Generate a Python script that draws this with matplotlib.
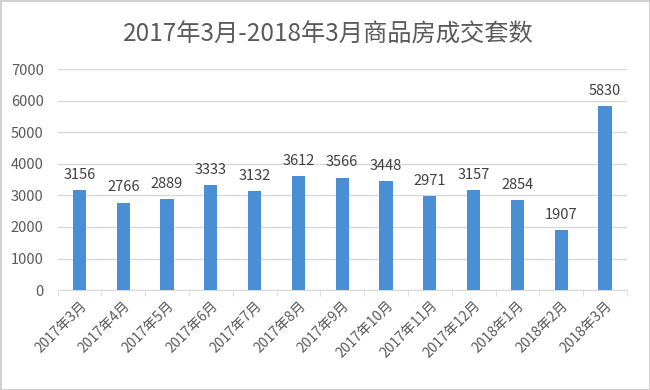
import matplotlib.pyplot as plt
import numpy as np

plt.rcParams['font.family'] = ['Noto Sans CJK SC', 'DejaVu Sans']

months = ['2017年3月', '2017年4月', '2017年5月', '2017年6月', '2017年7月',
          '2017年8月', '2017年9月', '2017年10月', '2017年11月', '2017年12月',
          '2018年1月', '2018年2月', '2018年3月']
sales = [3156, 2766, 2889, 3333, 3132, 3612, 3566, 3448, 2971, 3157, 2854, 1907, 5830]
yticks = [0, 1000, 2000, 3000, 4000, 5000, 6000, 7000]

text_gray = '#595959'
grid_gray = '#d9d9d9'
bar_blue = '#4a8fd6'

fig = plt.figure(figsize=(6.5, 3.9), dpi=100)
fig.patch.set_edgecolor('#d0d0d0')
fig.patch.set_linewidth(2)
ax = fig.add_axes([0.0885, 0.256, 0.876, 0.567])

x = np.arange(len(months))
ax.bar(x, sales, width=0.3, color=bar_blue, zorder=3)

# value labels above each bar
for xi, v in zip(x, sales):
    ax.annotate(str(v), (xi, v), xytext=(0, 6), textcoords='offset points',
                ha='center', va='bottom', fontsize=10.5, color='#404040')

ax.set_xlim(-0.5, len(months) - 0.5)
ax.set_ylim(0, 7000)
ax.set_yticks(yticks)
ax.set_yticklabels([str(t) for t in yticks])
ax.yaxis.grid(True, color=grid_gray, linewidth=1, zorder=0)
ax.tick_params(axis='y', length=0, pad=10, labelsize=10.5, labelcolor=text_gray)

# category labels on ticks, small boundary marks
ax.set_xticks(x)
ax.set_xticklabels(months, rotation=45, ha='right', rotation_mode='anchor',
                   fontsize=10, color=text_gray)
ax.tick_params(axis='x', length=0, pad=6)
ax.set_xticks(np.arange(-0.5, len(months)), minor=True)
ax.tick_params(axis='x', which='minor', length=4, color=grid_gray)

for s in ['top', 'right', 'left']:
    ax.spines[s].set_visible(False)
ax.spines['bottom'].set_color(grid_gray)

fig.text(0.505, 0.912, '2017年3月-2018年3月商品房成交套数', ha='center', va='center',
         fontsize=17.5, color='#5a5a5a')

fig.savefig('out.png', dpi=100)
